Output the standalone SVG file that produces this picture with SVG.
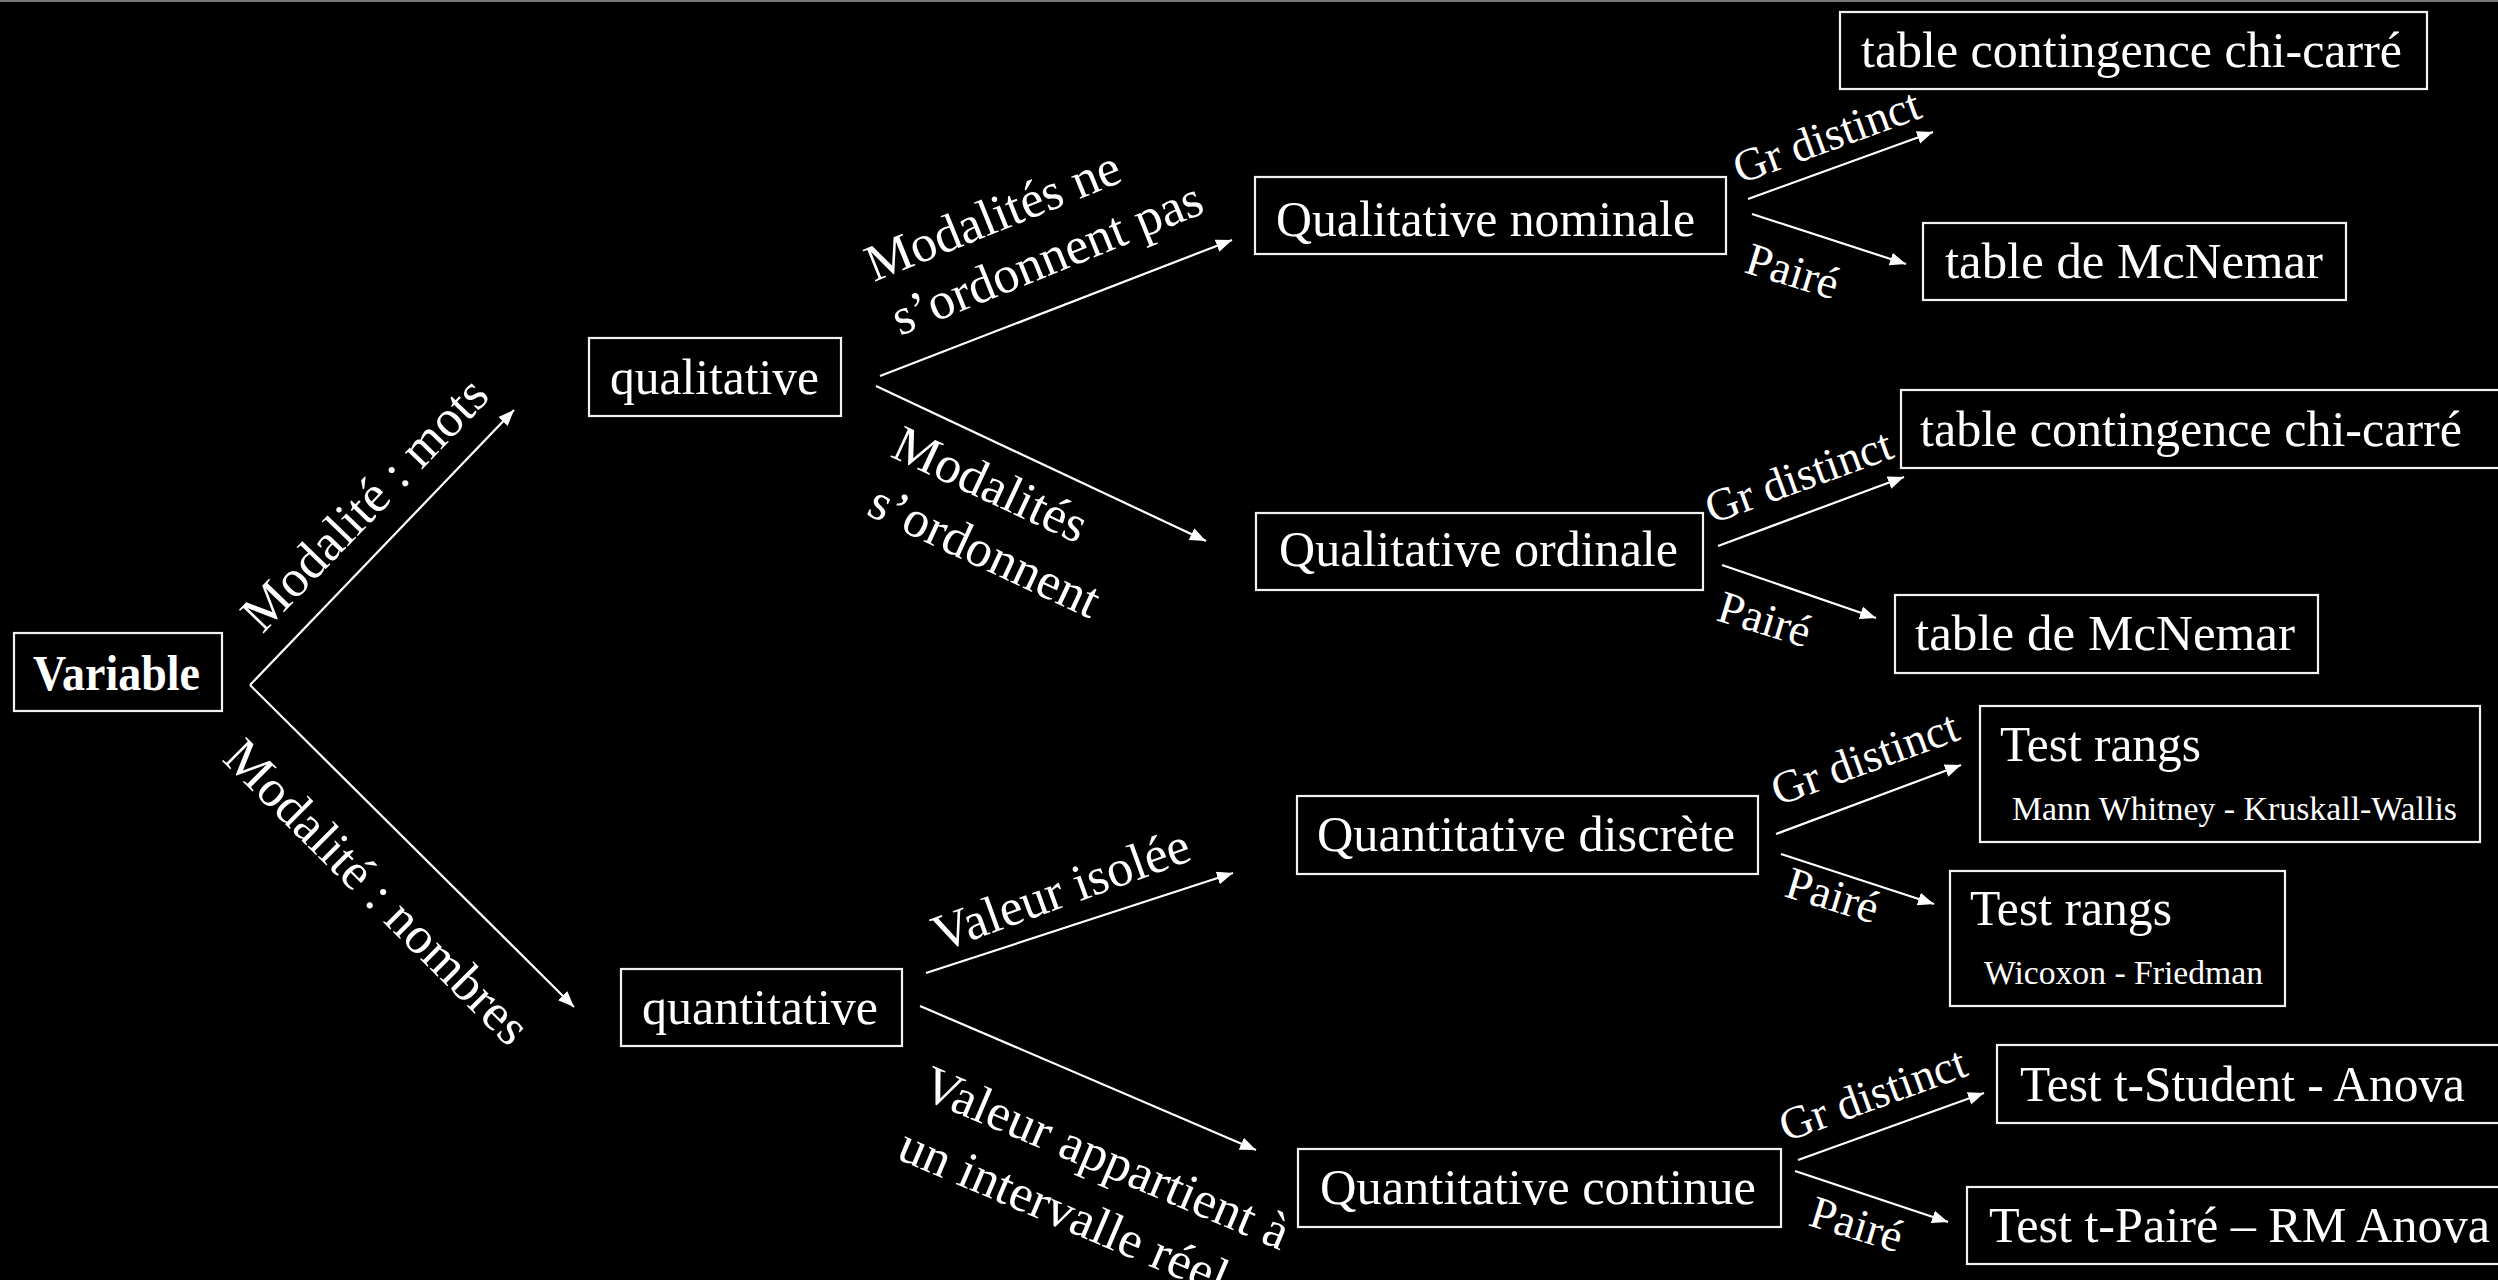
<svg xmlns="http://www.w3.org/2000/svg" width="2498" height="1280" viewBox="0 0 2498 1280">
<style>
.bx{fill:none;stroke:#f2f2f2;stroke-width:2.2}
.t{font-family:"Liberation Serif","Times New Roman",serif;font-size:50px;fill:#ffffff}
.lb{font-family:"Liberation Serif","Times New Roman",serif;font-size:52px;fill:#ffffff}
.gp{font-family:"Liberation Serif","Times New Roman",serif;font-size:46px;fill:#ffffff}
.sm{font-family:"Liberation Serif","Times New Roman",serif;font-size:33px;fill:#ffffff}
.c{fill:none;stroke:#ffffff;stroke-width:2.2}
</style>
<defs>
<marker id="ah" markerUnits="userSpaceOnUse" markerWidth="17" markerHeight="14" refX="16" refY="6.5" orient="auto">
<path d="M0,0 L16,6.5 L0,13 Z" fill="#ffffff"/>
</marker>
</defs>
<rect x="0" y="0" width="2498" height="1280" fill="#000000"/>
<line x1="0" y1="1" x2="2498" y2="1" stroke="#7a7a7a" stroke-width="2"/>

<g id="n-variable"><rect class="bx" x="14" y="633" width="208" height="78"/><text class="t" x="33" y="690" font-weight="bold" font-size="52" textLength="167" lengthAdjust="spacingAndGlyphs">Variable</text></g>
<g id="n-qualitative"><rect class="bx" x="589" y="338" width="252" height="78"/><text class="t" x="610" y="394" textLength="209" lengthAdjust="spacingAndGlyphs">qualitative</text></g>
<g id="n-quantitative"><rect class="bx" x="621" y="969" width="281" height="77"/><text class="t" x="642" y="1024" textLength="236" lengthAdjust="spacingAndGlyphs">quantitative</text></g>
<g id="n-nominale"><rect class="bx" x="1255" y="177" width="471" height="77"/><text class="t" x="1276" y="236" textLength="419" lengthAdjust="spacingAndGlyphs">Qualitative nominale</text></g>
<g id="n-ordinale"><rect class="bx" x="1256" y="513" width="447" height="77"/><text class="t" x="1279" y="566" textLength="399" lengthAdjust="spacingAndGlyphs">Qualitative ordinale</text></g>
<g id="n-discrete"><rect class="bx" x="1297" y="796" width="461" height="78"/><text class="t" x="1317" y="851" textLength="418" lengthAdjust="spacingAndGlyphs">Quantitative discrète</text></g>
<g id="n-continue"><rect class="bx" x="1298" y="1149" width="483" height="78"/><text class="t" x="1320" y="1204" textLength="436" lengthAdjust="spacingAndGlyphs">Quantitative continue</text></g>
<g id="n-chi1"><rect class="bx" x="1840" y="12" width="587" height="77"/><text class="t" x="1861" y="67" textLength="541" lengthAdjust="spacingAndGlyphs">table contingence chi-carré</text></g>
<g id="n-mcn1"><rect class="bx" x="1923" y="223" width="423" height="77"/><text class="t" x="1945" y="278" textLength="378" lengthAdjust="spacingAndGlyphs">table de McNemar</text></g>
<g id="n-chi2"><rect class="bx" x="1901" y="390" width="640" height="78"/><text class="t" x="1920" y="446" textLength="542" lengthAdjust="spacingAndGlyphs">table contingence chi-carré</text></g>
<g id="n-mcn2"><rect class="bx" x="1895" y="595" width="423" height="78"/><text class="t" x="1915" y="650" textLength="380" lengthAdjust="spacingAndGlyphs">table de McNemar</text></g>
<g id="n-rangs1"><rect class="bx" x="1980" y="706" width="500" height="136"/><text class="t" x="2000" y="761" textLength="201" lengthAdjust="spacingAndGlyphs">Test rangs</text><text class="sm" x="2012" y="820" textLength="445" lengthAdjust="spacingAndGlyphs">Mann Whitney - Kruskall-Wallis</text></g>
<g id="n-rangs2"><rect class="bx" x="1950" y="871" width="335" height="135"/><text class="t" x="1970" y="925" textLength="202" lengthAdjust="spacingAndGlyphs">Test rangs</text><text class="sm" x="1984" y="984" textLength="279" lengthAdjust="spacingAndGlyphs">Wicoxon - Friedman</text></g>
<g id="n-tstudent"><rect class="bx" x="1997" y="1045" width="540" height="78"/><text class="t" x="2020" y="1101" textLength="445" lengthAdjust="spacingAndGlyphs">Test t-Student - Anova</text></g>
<g id="n-tpaire"><rect class="bx" x="1967" y="1187" width="570" height="77"/><text class="t" x="1989" y="1242" textLength="501" lengthAdjust="spacingAndGlyphs">Test t-Pairé – RM Anova</text></g>

<g id="connectors">
<line class="c" x1="250" y1="685" x2="514" y2="410" marker-end="url(#ah)"/>
<line class="c" x1="250" y1="685" x2="574" y2="1007" marker-end="url(#ah)"/>
<line class="c" x1="880" y1="376" x2="1232" y2="240" marker-end="url(#ah)"/>
<line class="c" x1="876" y1="386" x2="1206" y2="541" marker-end="url(#ah)"/>
<line class="c" x1="926" y1="973" x2="1233" y2="873" marker-end="url(#ah)"/>
<line class="c" x1="920" y1="1006" x2="1256" y2="1150" marker-end="url(#ah)"/>
<line class="c" x1="1748" y1="199" x2="1933" y2="132" marker-end="url(#ah)"/>
<line class="c" x1="1752" y1="214" x2="1906" y2="264" marker-end="url(#ah)"/>
<line class="c" x1="1718" y1="546" x2="1904" y2="477" marker-end="url(#ah)"/>
<line class="c" x1="1722" y1="565" x2="1876" y2="618" marker-end="url(#ah)"/>
<line class="c" x1="1776" y1="834" x2="1961" y2="765" marker-end="url(#ah)"/>
<line class="c" x1="1781" y1="854" x2="1934" y2="904" marker-end="url(#ah)"/>
<line class="c" x1="1798" y1="1160" x2="1984" y2="1093" marker-end="url(#ah)"/>
<line class="c" x1="1795" y1="1171" x2="1948" y2="1222" marker-end="url(#ah)"/>

<text class="lb" text-anchor="middle" transform="translate(377,516) rotate(-46)">Modalité : mots</text>
<text class="lb" text-anchor="middle" transform="translate(365,904) rotate(45)">Modalité : nombres</text>
<text class="lb" transform="translate(874,282) rotate(-22)">Modalités ne</text>
<text class="lb" transform="translate(900,336) rotate(-22)">s’ordonnent pas</text>
<text class="lb" transform="translate(889,456) rotate(25)">Modalités</text>
<text class="lb" transform="translate(865,514) rotate(25)">s’ordonnent</text>
<text class="lb" transform="translate(940,952) rotate(-20)">Valeur isolée</text>
<text class="lb" transform="translate(919,1097) rotate(23)">Valeur appartient à</text>
<text class="lb" transform="translate(895,1158) rotate(23)">un intervalle réel</text>
<text class="gp" transform="translate(1740,184) rotate(-20)">Gr distinct</text>
<text class="gp" transform="translate(1743,272) rotate(17)">Pairé</text>
<text class="gp" transform="translate(1712,524) rotate(-20)">Gr distinct</text>
<text class="gp" transform="translate(1715,620) rotate(17)">Pairé</text>
<text class="gp" transform="translate(1778,806) rotate(-20)">Gr distinct</text>
<text class="gp" transform="translate(1783,896) rotate(17)">Pairé</text>
<text class="gp" transform="translate(1786,1142) rotate(-20)">Gr distinct</text>
<text class="gp" transform="translate(1807,1225) rotate(17)">Pairé</text>
</g>
</svg>
